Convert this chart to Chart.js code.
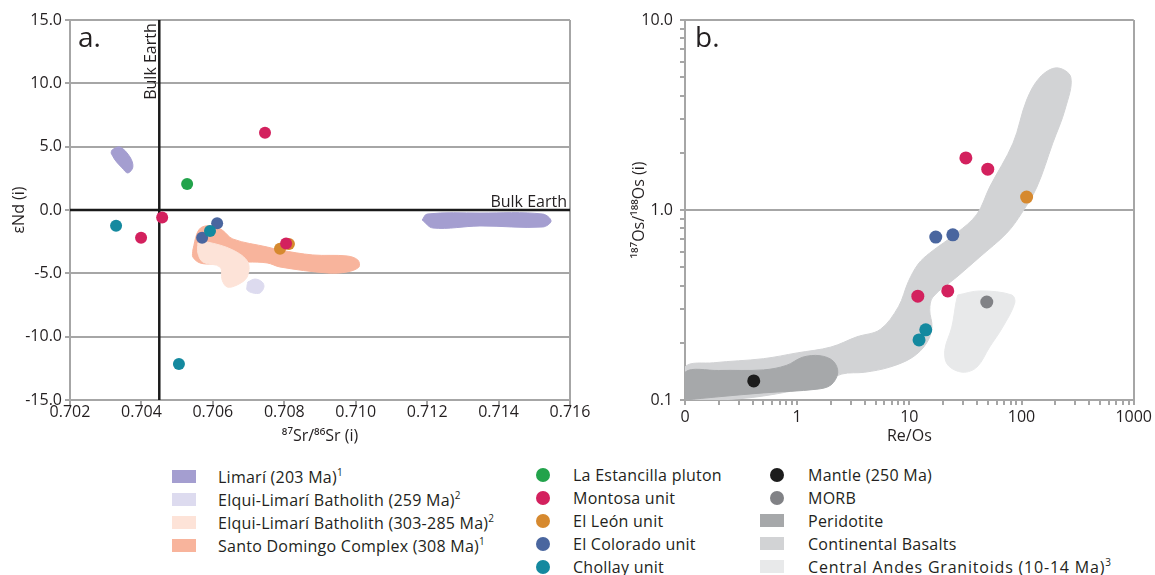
<!DOCTYPE html>
<html><head><meta charset="utf-8">
<script src="https://cdn.jsdelivr.net/npm/chart.js@4.4.1/dist/chart.umd.min.js"></script>
<style>
html,body{margin:0;padding:0;background:#fff;width:1155px;height:575px;overflow:hidden;font-family:"Open Sans",sans-serif;color:#231f20}
#pa{position:absolute;left:0;top:0;width:620px;height:450px}
#pb{position:absolute;left:620px;top:0;width:535px;height:450px}
.leg{position:absolute;font-size:16px;letter-spacing:0.25px}
.row{display:flex;align-items:center;height:23px;white-space:nowrap}
.ic{flex:none;display:flex;align-items:center}
sup{font-size:10px;line-height:0;vertical-align:7px}
</style></head>
<body>
<div id="pa"><canvas id="ca" width="620" height="450"></canvas></div>
<div id="pb"><canvas id="cb" width="535" height="450"></canvas></div>
<div class="leg" id="leg1" style="left:172px;top:465px"></div>
<div class="leg" id="leg2" style="left:536px;top:463px"></div>
<div class="leg" id="leg3" style="left:760px;top:463px"></div>
<script>
// ---------- Panel a: 87Sr/86Sr vs eNd ----------
const xTicksA = [0.702, 0.704, 0.706, 0.708, 0.710, 0.712, 0.714, 0.716];
const xTickLabelsA = ['0.702', '0.704', '0.706', '0.708', '0.710', '0.712', '0.714', '0.716'];
const yTicksA = [-15, -10, -5, 0, 5, 10, 15];
const yTickLabelsA = ['-15.0', '-10.0', '-5.0', '0.0', '5.0', '10.0', '15.0'];
const bulkEarthSr = 0.7045;
const bulkEarthNd = 0;

const estancillaA = [[0.70528, 2.05]];
const montosaA = [[0.70746, 6.1], [0.70458, -0.6], [0.70399, -2.2], [0.70805, -2.65]];
const leonA = [[0.70788, -3.05], [0.70813, -2.68]];
const coloradoA = [[0.70612, -1.05], [0.70570, -2.2]];
const chollayA = [[0.70329, -1.25], [0.70592, -1.65], [0.70505, -12.15]];

const limariBlobA = [[0.70315, 4.5], [0.70318, 4.74], [0.7034, 4.97], [0.70368, 4.18], [0.70376, 3.39], [0.70362, 2.92], [0.70346, 3.32], [0.70326, 3.95]];
const limariBandA = [[0.71186, -0.79], [0.7120, -0.32], [0.71348, -0.24], [0.71524, -0.32], [0.71547, -0.87], [0.71524, -1.34], [0.71348, -1.26], [0.71216, -1.42]];
const santoDomingoA = [[0.70544, -3.16], [0.70556, -1.82], [0.7057, -1.34], [0.7060, -1.26], [0.70626, -1.58], [0.70656, -2.29], [0.70752, -2.92], [0.70788, -3.16], [0.7088, -3.55], [0.70976, -3.63], [0.71006, -3.95], [0.71009, -4.5], [0.70976, -4.89], [0.7092, -4.97], [0.70788, -4.5], [0.70752, -4.18], [0.70696, -4.11], [0.70656, -4.18], [0.7060, -4.26], [0.70564, -4.18], [0.70544, -3.71]];
const elqui303A = [[0.70558, -2.61], [0.70584, -2.53], [0.70656, -3.16], [0.70698, -4.11], [0.70696, -5.29], [0.70668, -5.92], [0.7064, -6.08], [0.70626, -5.53], [0.7062, -4.5], [0.70572, -4.11], [0.70558, -3.39]];
const elqui259A = [[0.70698, -5.68], [0.70718, -5.45], [0.70738, -5.68], [0.70743, -6.08], [0.70732, -6.55], [0.70712, -6.55], [0.70696, -6.32], [0.70696, -5.92]];

// ---------- Panel b: Re/Os vs 187Os/188Os ----------
const xTicksB = [0.1, 1, 10, 100, 1000];
const xTickLabelsB = ['0', '1', '10', '100', '1000'];
const yTicksB = [0.1, 1, 10];
const yTickLabelsB = ['0.1', '1.0', '10.0'];

const mantleB = [[0.41, 0.126]];
const morbB = [[49, 0.328]];
const montosaB = [[31.9, 1.88], [50, 1.64], [11.9, 0.352], [22, 0.375]];
const leonB = [[111, 1.17]];
const coloradoB = [[17.2, 0.72], [24.4, 0.74]];
const chollayB = [[12.2, 0.207], [14.0, 0.234]];

const peridotiteB = [[0.1, 0.1], [0.1, 0.14], [0.2, 0.143], [0.5, 0.144], [0.8, 0.152], [1.12, 0.168], [1.6, 0.171], [2.1, 0.16], [2.3, 0.139], [2.0, 0.12], [1.5, 0.114], [0.5, 0.109], [0.2, 0.104]];
const contBasaltsB = [[0.1, 0.1], [0.1, 0.149], [0.18, 0.157], [0.5, 0.165], [1.0, 0.177], [2.0, 0.19], [3.4, 0.215], [5.5, 0.235], [8.0, 0.31], [9.8, 0.42], [12, 0.52], [15.2, 0.594], [26.5, 0.757], [40, 0.95], [52, 1.32], [84, 2.25], [111, 3.79], [146, 5.0], [206, 5.6], [275, 5.0], [245, 3.4], [190, 2.25], [137, 1.32], [100, 0.96], [74, 0.757], [42.5, 0.566], [26.5, 0.444], [16.2, 0.348], [15.2, 0.298], [15.9, 0.242], [14.3, 0.2], [10.7, 0.168], [6.7, 0.149], [4, 0.14], [2.5, 0.137], [1.5, 0.12], [0.5, 0.105], [0.2, 0.1]];
const granitoidsB = [[27, 0.357], [42.5, 0.375], [82, 0.357], [87, 0.324], [68, 0.242], [52, 0.19], [40, 0.149], [30, 0.14], [22, 0.153], [20.7, 0.183], [23.9, 0.242], [26, 0.324]];

// ---------- styling ----------
const C = {
  limari: '#a49ed0', elqui259: '#dddbef', elqui303: '#fde3d8', santo: '#f8b49c',
  estancilla: '#22a34b', montosa: '#d3215e', leon: '#d6892f', colorado: '#4a669f', chollay: '#14899f',
  mantle: '#1c1c1c', morb: '#818286', peridotite: '#a6a8aa', basalts: '#d2d3d5', granitoids: '#e8e9ea'
};
const gridCol = '#a6a6a6';
const textCol = '#231f20';
const F = {family: '"Open Sans", sans-serif', size: 16};

const toPts = a => a.map(([x, y]) => ({x, y}));
const toPoly = a => { const p = toPts(a); p.push({...p[0]}); return p; };
const pointSet = (data, color, r) => ({data: toPts(data), backgroundColor: color, borderColor: color, borderWidth: 0, pointRadius: r, pointHoverRadius: r, showLine: false, order: 0});
const areaSet = (data, color, order) => ({data: toPoly(data), backgroundColor: color, borderColor: color, borderWidth: 1, pointRadius: 0, showLine: true, fill: 'shape', tension: 0.35, order});
const lineSet = (data) => ({data: toPts(data), borderColor: '#1a1a1a', borderWidth: 2.5, pointRadius: 0, showLine: true, fill: false, order: 1});

const annot = {
  id: 'annot',
  afterDatasetsDraw(chart, args, opts) {
    const {ctx, chartArea, scales} = chart;
    ctx.save();
    ctx.fillStyle = textCol;
    ctx.font = '28px "Open Sans"';
    ctx.textAlign = 'left'; ctx.textBaseline = 'alphabetic';
    ctx.fillText(opts.panel, chartArea.left + opts.dx, chartArea.top + 27);
    if (opts.bulk) {
      ctx.font = '16px "Open Sans"';
      ctx.textAlign = 'right';
      ctx.fillText('Bulk Earth', scales.x.getPixelForValue(xTicksA[xTicksA.length - 1]) - 3, scales.y.getPixelForValue(bulkEarthNd) - 3);
      ctx.translate(scales.x.getPixelForValue(bulkEarthSr) - 3, scales.y.getPixelForValue(8.7));
      ctx.rotate(-Math.PI / 2);
      ctx.textAlign = 'left';
      ctx.fillText('Bulk Earth', 0, 0);
    }
    ctx.restore();
  }
};

function setTicks(values, majors) {
  return s => { s.ticks = values.map(v => ({value: v, major: majors ? majors.includes(v) : true})); };
}

// ---------- chart a ----------
new Chart(document.getElementById('ca'), {
  type: 'scatter',
  data: {datasets: [
    pointSet(chollayA, C.chollay, 6),
    pointSet(coloradoA, C.colorado, 6),
    pointSet(montosaA, C.montosa, 6),
    pointSet(leonA, C.leon, 6),
    pointSet(estancillaA, C.estancilla, 6),
    lineSet([[bulkEarthSr, -15], [bulkEarthSr, 15]]),
    lineSet([[0.702, bulkEarthNd], [0.716, bulkEarthNd]]),
    areaSet(elqui259A, C.elqui259, 5),
    areaSet(elqui303A, C.elqui303, 6),
    areaSet(santoDomingoA, C.santo, 7),
    areaSet(limariBlobA, C.limari, 8),
    areaSet(limariBandA, C.limari, 8)
  ]},
  options: {
    responsive: false, animation: false, devicePixelRatio: 1, events: [],
    layout: {padding: {left: 0, right: 50, top: 20, bottom: 0}},
    plugins: {legend: {display: false}, tooltip: {enabled: false}, annot: {panel: 'a.', dx: 8, bulk: true}},
    scales: {
      x: {type: 'linear', min: 0.702, max: 0.716,
        afterBuildTicks: setTicks(xTicksA),
        afterFit: s => { s.height = 50; },
        ticks: {autoSkip: false, maxRotation: 0, padding: -2, color: textCol, font: F, callback: (v, i) => xTickLabelsA[i]},
        grid: {lineWidth: 2, tickLength: 5, tickColor: gridCol, tickWidth: 2, color: c => (c.tick && c.tick.value === 0.716) ? gridCol : 'rgba(0,0,0,0)'},
        border: {color: gridCol, width: 2},
        title: {display: true, text: '⁸⁷Sr/⁸⁶Sr (i)', color: textCol, font: F, padding: {top: 0, bottom: 4}}
      },
      y: {type: 'linear', min: -15, max: 15,
        afterBuildTicks: setTicks(yTicksA),
        afterFit: s => { s.width = 70; },
        ticks: {padding: 3, color: textCol, font: F, callback: (v, i) => yTickLabelsA[i]},
        grid: {lineWidth: 2, tickLength: 5, tickColor: gridCol, tickWidth: 2, color: gridCol},
        border: {color: gridCol, width: 2},
        title: {display: true, text: 'εNd (i)', color: textCol, font: F, padding: {top: 10, bottom: 0}}
      }
    }
  },
  plugins: [annot]
});

// ---------- chart b ----------
const decades = [0.1, 1, 10, 100];
const minorX = []; decades.forEach(d => { for (let m = 1; m <= 9; m++) minorX.push(m === 1 ? d : m * d); }); minorX.push(1000);
const minorY = []; [0.1, 1].forEach(d => { for (let m = 1; m <= 9; m++) minorY.push(m === 1 ? d : m * d); }); minorY.push(10);

new Chart(document.getElementById('cb'), {
  type: 'scatter',
  data: {datasets: [
    pointSet(chollayB, C.chollay, 6.5),
    pointSet(coloradoB, C.colorado, 6.5),
    pointSet(montosaB, C.montosa, 6.5),
    pointSet(leonB, C.leon, 6.5),
    pointSet(morbB, C.morb, 6.5),
    pointSet(mantleB, C.mantle, 6.5),
    areaSet(granitoidsB, C.granitoids, 5),
    areaSet(peridotiteB, C.peridotite, 6),
    areaSet(contBasaltsB, C.basalts, 7)
  ]},
  options: {
    responsive: false, animation: false, devicePixelRatio: 1, events: [],
    layout: {padding: {left: 0, right: 21, top: 20, bottom: 0}},
    plugins: {legend: {display: false}, tooltip: {enabled: false}, annot: {panel: 'b.', dx: 10, bulk: false}},
    scales: {
      x: {type: 'logarithmic', min: 0.1, max: 1000,
        afterBuildTicks: setTicks(minorX, xTicksB),
        afterFit: s => { s.height = 50; },
        ticks: {autoSkip: false, maxRotation: 0, padding: 3, color: textCol, font: F, callback: (v) => { const i = xTicksB.indexOf(v); return i >= 0 ? xTickLabelsB[i] : ''; }},
        grid: {lineWidth: 2, tickLength: 5, tickColor: gridCol, tickWidth: 2, color: c => (c.tick && c.tick.value === 1000) ? gridCol : 'rgba(0,0,0,0)'},
        border: {color: gridCol, width: 2},
        title: {display: true, text: 'Re/Os', color: textCol, font: F, padding: {top: 0, bottom: 4}}
      },
      y: {type: 'logarithmic', min: 0.1, max: 10,
        afterBuildTicks: setTicks(minorY, yTicksB),
        afterFit: s => { s.width = 65; },
        ticks: {autoSkip: false, padding: 7, color: textCol, font: F, callback: (v) => { const i = yTicksB.indexOf(v); return i >= 0 ? yTickLabelsB[i] : ''; }},
        grid: {lineWidth: 2, tickLength: 5, tickColor: gridCol, tickWidth: 2, color: c => (c.tick && (c.tick.value === 1 || c.tick.value === 10)) ? gridCol : 'rgba(0,0,0,0)'},
        border: {color: gridCol, width: 2},
        title: {display: true, text: '¹⁸⁷Os/¹⁸⁸Os (i)', color: textCol, font: F, padding: {top: 10, bottom: 0}}
      }
    }
  },
  plugins: [annot]
});

// ---------- legend ----------
const legendCol1 = [
  ['Limarí (203 Ma)', '1', C.limari, 'box'],
  ['Elqui-Limarí Batholith (259 Ma)', '2', C.elqui259, 'box'],
  ['Elqui-Limarí Batholith (303-285 Ma)', '2', C.elqui303, 'box'],
  ['Santo Domingo Complex (308 Ma)', '1', C.santo, 'box']
];
const legendCol2 = [
  ['La Estancilla pluton', '', C.estancilla, 'dot'],
  ['Montosa unit', '', C.montosa, 'dot'],
  ['El León unit', '', C.leon, 'dot'],
  ['El Colorado unit', '', C.colorado, 'dot'],
  ['Chollay unit', '', C.chollay, 'dot']
];
const legendCol3 = [
  ['Mantle (250 Ma)', '', C.mantle, 'dot'],
  ['MORB', '', C.morb, 'dot'],
  ['Peridotite', '', C.peridotite, 'box'],
  ['Continental Basalts', '', C.basalts, 'box'],
  ['Central Andes Granitoids (10-14 Ma)', '3', C.granitoids, 'box']
];
function buildLegend(id, items, iconW, dotOffset, gap, wideSpacing) {
  const el = document.getElementById(id);
  items.forEach(([label, sup, color, kind]) => {
    const row = document.createElement('div'); row.className = 'row';
    const ic = document.createElement('div'); ic.className = 'ic'; ic.style.width = iconW + 'px'; ic.style.height = '23px';
    const m = document.createElement('div');
    if (kind === 'box') { m.style.cssText = 'width:24px;height:13px;background:' + color; }
    else { m.style.cssText = 'width:14px;height:14px;border-radius:50%;margin-left:' + dotOffset + 'px;background:' + color; }
    ic.appendChild(m);
    const t = document.createElement('span'); t.style.marginLeft = gap + 'px';
    t.textContent = label;
    if (wideSpacing && label.length > 32) t.style.letterSpacing = '0.8px';
    if (sup) { const s = document.createElement('sup'); s.textContent = sup; t.appendChild(s); }
    row.appendChild(ic); row.appendChild(t); el.appendChild(row);
  });
}
buildLegend('leg1', legendCol1, 24, 0, 22, false);
buildLegend('leg2', legendCol2, 14, 0, 23, false);
buildLegend('leg3', legendCol3, 24, 10, 24, true);
</script>
</body></html>
